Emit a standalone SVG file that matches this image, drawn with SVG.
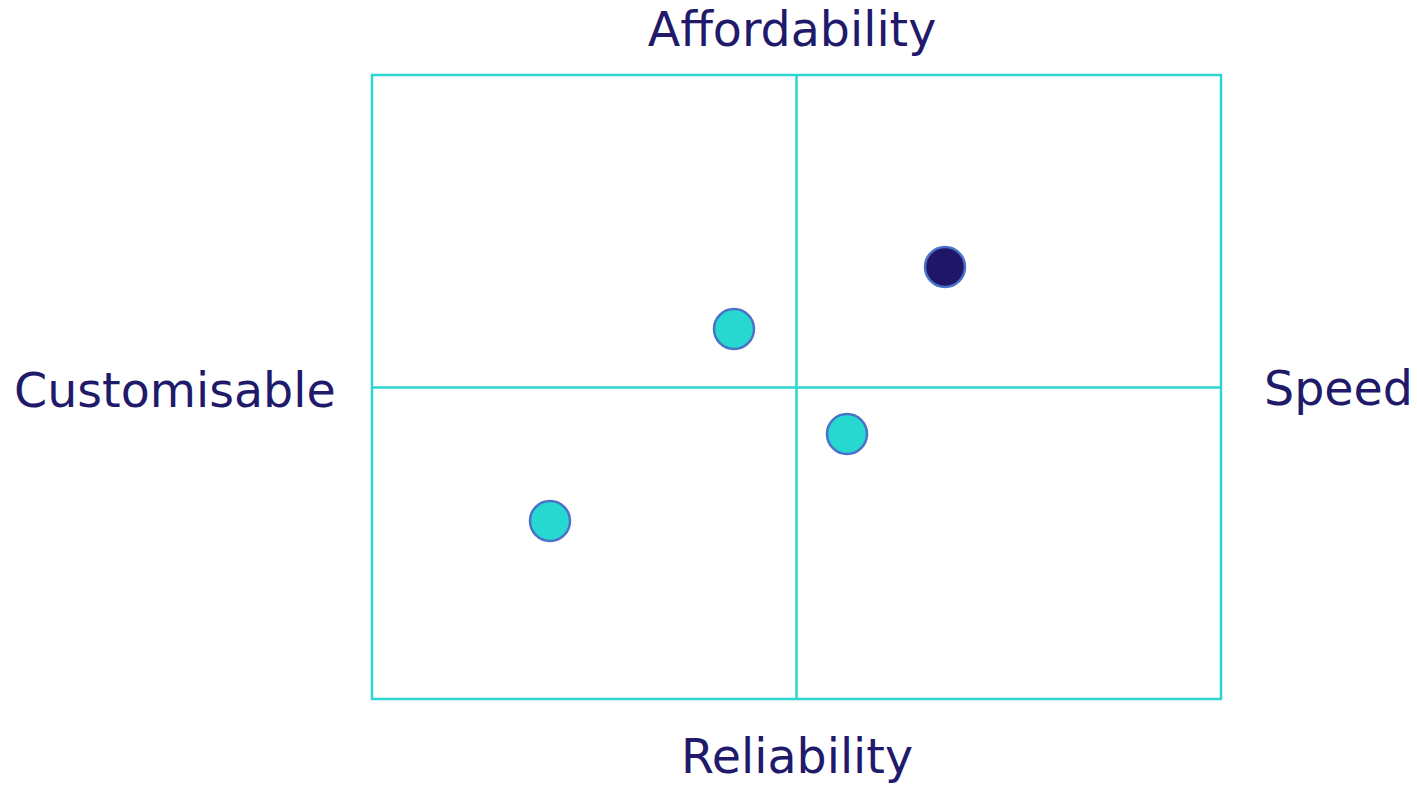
<svg xmlns="http://www.w3.org/2000/svg" width="1417" height="785" viewBox="0 0 1417 785">
<style>
.lbl{font-family:"DejaVu Sans",Verdana,sans-serif;font-size:47.5px;fill:#211a6b}
.grid{fill:none;stroke:#2dd6d0;stroke-width:2.5}
.dot{stroke:#4a72c8;stroke-width:2.5}
.teal{fill:#26d8d0}
.navy{fill:#1f1668}
</style>
<rect width="1417" height="785" fill="#ffffff"/>
<g id="connectors">
<rect class="grid" x="372" y="75" width="849" height="624"/>
<line class="grid" x1="796.5" y1="75" x2="796.5" y2="699"/>
<line class="grid" x1="372" y1="387.5" x2="1221" y2="387.5"/>
</g>
<g id="label-affordability"><text class="lbl" x="792" y="46" text-anchor="middle">Affordability</text></g>
<g id="label-reliability"><text class="lbl" x="797" y="773" text-anchor="middle">Reliability</text></g>
<g id="label-customisable"><text class="lbl" x="14" y="407">Customisable</text></g>
<g id="label-speed"><text class="lbl" x="1264" y="405">Speed</text></g>
<g id="dot-1"><circle class="dot navy" cx="945" cy="267" r="20"/></g>
<g id="dot-2"><circle class="dot teal" cx="734" cy="329" r="20"/></g>
<g id="dot-3"><circle class="dot teal" cx="847" cy="434" r="20"/></g>
<g id="dot-4"><circle class="dot teal" cx="550" cy="521" r="20"/></g>
</svg>
